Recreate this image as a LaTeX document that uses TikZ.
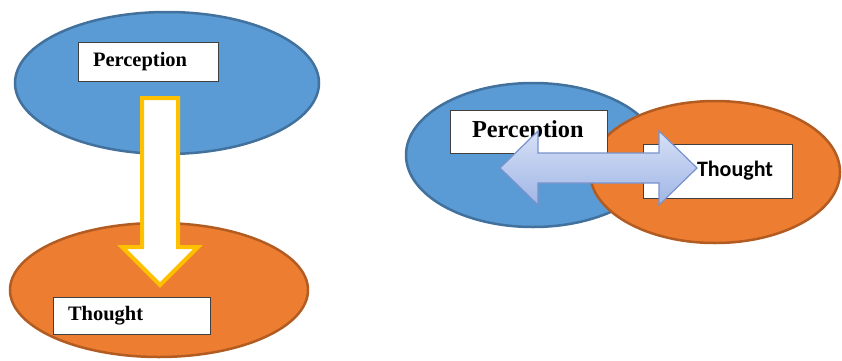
\documentclass[tikz,border=0pt]{standalone}
\usepackage{fontspec}
\setmainfont{Liberation Serif}
\newfontfamily\calib{Carlito}
\usepackage{tikz}
\usetikzlibrary{shapes.geometric,calc}
\definecolor{percblue}{RGB}{91,155,213}
\definecolor{percedge}{RGB}{65,113,156}
\definecolor{thoor}{RGB}{237,125,49}
\definecolor{thoedge}{RGB}{178,92,34}
\definecolor{gold}{RGB}{255,192,0}
\definecolor{arrtop}{RGB}{214,224,246}
\definecolor{arrbot}{RGB}{160,182,230}
\definecolor{arredge}{RGB}{120,146,204}
\tikzset{
  bubble/.style={draw,ellipse,line width=2.5pt,inner sep=0pt},
  blue/.style={bubble,fill=percblue,draw=percedge},
  orng/.style={bubble,fill=thoor,draw=thoedge},
  tag/.style={draw=black!75,fill=white,line width=0.8pt,inner xsep=0pt,align=left,font=\bfseries},
  downarr/.style={draw=gold,fill=white,line width=4pt,line join=miter},
  dblarr/.style={draw=arredge,top color=arrtop,bottom color=arrbot,line width=1.2pt,line join=miter}
}

\begin{document}
\begin{tikzpicture}[x=1pt,y=1pt]
\useasboundingbox (0,0) rectangle (842,360);
% left: perception leads to thought
\node[blue,minimum width=304pt,minimum height=142pt] (lp) at (167,277) {};
\node[tag,text width=140pt,minimum height=39pt,font=\bfseries\fontsize{20.5}{24}\selectfont] (lpt) at (148,298.5) {\hspace{15pt}Perception};
\node[orng,minimum width=298pt,minimum height=134pt] (lt) at (159,70) {};
\node[tag,text width=157pt,minimum height=37pt,font=\bfseries\fontsize{20.5}{24}\selectfont] (ltt) at (131.5,44.5) {\hspace{15pt}Thought};
\coordinate (at) at (160,262);
\coordinate (ab) at (160,75);
\draw[downarr] ($(at)+(-18,0)$) -- ($(at)+(18,0)$) -- ($(ab)+(18,38)$) -- ($(ab)+(38,38)$)
  -- (ab) -- ($(ab)+(-38,38)$) -- ($(ab)+(-18,38)$) -- cycle;
% right: the two overlap
\node[blue,minimum width=254pt,minimum height=144pt] (rp) at (533,205) {};
\node[orng,minimum width=250pt,minimum height=142pt] (rt) at (715,188) {};
\node[tag,text width=157pt,minimum height=43pt,font=\bfseries\fontsize{24.3}{28}\selectfont] (rpt) at (528.5,228.5) {\hspace{22pt}Perception};
\node[tag,text width=149pt,minimum height=54pt,font=\calib\bfseries\fontsize{22}{26}\selectfont] (rtt) at (717.5,189) {\hspace{54pt}Thought};
\coordinate (dl) at (500,192);
\coordinate (dr) at (697,192);
\draw[dblarr] (dl) -- ($(dl)+(38,37)$) -- ($(dl)+(38,15)$) -- ($(dr)+(-38,15)$) -- ($(dr)+(-38,37)$)
  -- (dr) -- ($(dr)+(-38,-37)$) -- ($(dr)+(-38,-15)$) -- ($(dl)+(38,-15)$) -- ($(dl)+(38,-37)$) -- cycle;
\end{tikzpicture}
\end{document}
